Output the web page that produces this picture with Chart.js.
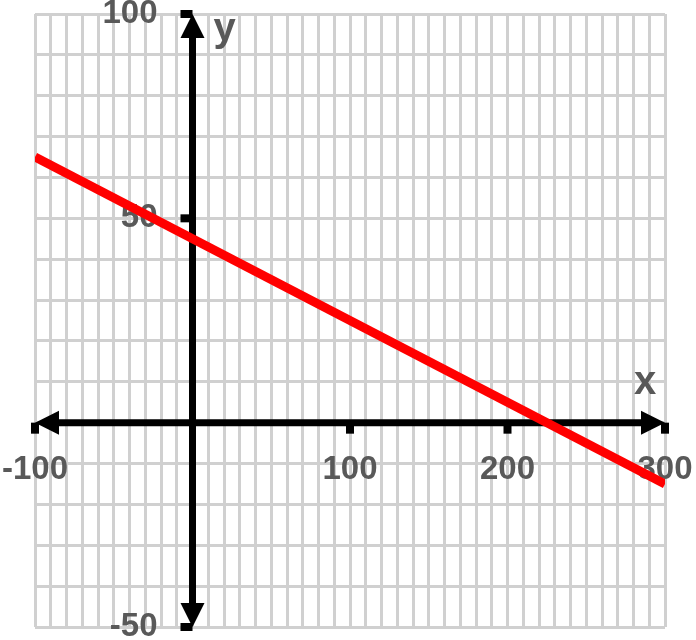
<!DOCTYPE html>
<html lang="en">
<head>
    <meta charset="UTF-8">
    <title>Line graph</title>
    <script src="https://cdn.jsdelivr.net/npm/chart.js"></script>
    <style>
        body {
            margin: 0;
            background: #fff;
        }
        #graph {
            display: block;
        }
    </style>
</head>
<body>
<canvas id="graph" width="696" height="640"></canvas>

<script>
    // values
    const lineX = [-100, 300];
    const lineY = [65, -15];
    const xRange = [-100, 300];
    const yRange = [-50, 100];
    const xTickLabels = [-100, 100, 200, 300];
    const yTickLabels = [100, 50, -50];
    const axisNames = ['x', 'y'];

    const labelColor = '#595959';
    const fontName = '"Liberation Sans", Arial, sans-serif';

    function arrowHead(ctx, tipX, tipY, dx, dy) {
        // dx, dy: unit direction the arrow points to
        const len = 24, half = 12;
        const bx = tipX - dx * len, by = tipY - dy * len;
        ctx.beginPath();
        ctx.moveTo(tipX, tipY);
        ctx.lineTo(bx - dy * half, by + dx * half);
        ctx.lineTo(bx + dy * half, by - dx * half);
        ctx.closePath();
        ctx.fill();
    }

    const axesPlugin = {
        id: 'crossAxes',
        beforeDatasetsDraw(chart) {
            const ctx = chart.ctx;
            const xs = chart.scales.x, ys = chart.scales.y;
            const x0 = xs.getPixelForValue(0);
            const y0 = ys.getPixelForValue(0);
            const xl = xs.getPixelForValue(xRange[0]), xr = xs.getPixelForValue(xRange[1]);
            const yt = ys.getPixelForValue(yRange[1]), yb = ys.getPixelForValue(yRange[0]);

            ctx.save();
            ctx.strokeStyle = '#000';
            ctx.fillStyle = '#000';
            ctx.lineWidth = 7;

            // tick squares
            xTickLabels.forEach(v => {
                const px = xs.getPixelForValue(v);
                ctx.fillRect(px - 4, y0, 8, 11);
            });
            yTickLabels.forEach(v => {
                const py = ys.getPixelForValue(v);
                ctx.fillRect(x0 - 12, py - 4, 12, 8);
            });

            // axis lines
            ctx.beginPath();
            ctx.moveTo(xl + 20, y0);
            ctx.lineTo(xr - 20, y0);
            ctx.moveTo(x0, yt + 20);
            ctx.lineTo(x0, yb - 20);
            ctx.stroke();

            arrowHead(ctx, xl, y0, -1, 0);
            arrowHead(ctx, xr, y0, 1, 0);
            arrowHead(ctx, x0, yt, 0, -1);
            arrowHead(ctx, x0, yb, 0, 1);

            // tick labels
            ctx.fillStyle = labelColor;
            ctx.font = 'bold 33px ' + fontName;
            ctx.textBaseline = 'alphabetic';
            ctx.textAlign = 'center';
            xTickLabels.forEach(v => {
                ctx.fillText(String(v), xs.getPixelForValue(v), y0 + 56);
            });
            ctx.textAlign = 'right';
            yTickLabels.forEach(v => {
                ctx.fillText(String(v), x0 - 35, ys.getPixelForValue(v) + 9);
            });

            // axis names
            ctx.font = 'bold 40px ' + fontName;
            ctx.textAlign = 'center';
            ctx.fillText(axisNames[0], xr - 20, y0 - 29);
            ctx.fillText(axisNames[1], x0 + 32, yt + 27);
            ctx.restore();
        }
    };

    const gridOpts = {
        color: '#d0d0d0',
        lineWidth: 3,
        drawTicks: false
    };

    new Chart(document.getElementById('graph'), {
        type: 'scatter',
        data: {
            datasets: [{
                data: lineX.map((x, i) => ({ x: x, y: lineY[i] })),
                showLine: true,
                borderColor: '#ff0000',
                borderWidth: 9,
                borderCapStyle: 'butt',
                pointRadius: 0,
                pointHoverRadius: 0
            }]
        },
        options: {
            responsive: false,
            animation: false,
            layout: {
                padding: { left: 35, top: 14, right: 31, bottom: 13 }
            },
            plugins: {
                legend: { display: false },
                tooltip: { enabled: false }
            },
            scales: {
                x: {
                    type: 'linear',
                    min: xRange[0],
                    max: xRange[1],
                    ticks: { display: false, stepSize: 10, maxTicksLimit: 100 },
                    grid: gridOpts,
                    border: { display: false }
                },
                y: {
                    type: 'linear',
                    min: yRange[0],
                    max: yRange[1],
                    ticks: { display: false, stepSize: 10, maxTicksLimit: 100 },
                    grid: gridOpts,
                    border: { display: false }
                }
            }
        },
        plugins: [axesPlugin]
    });
</script>
</body>
</html>
